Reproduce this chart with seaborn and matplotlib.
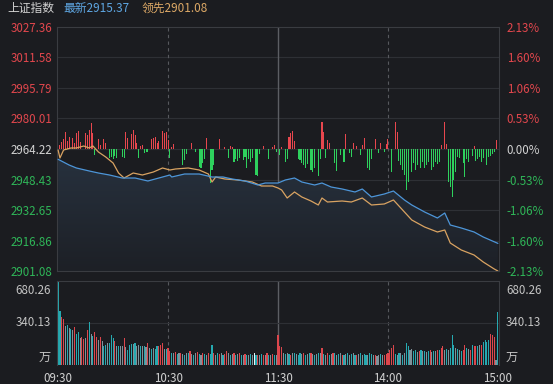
import numpy as np
import pandas as pd
import matplotlib
matplotlib.use("Agg")
import matplotlib.pyplot as plt
from matplotlib.path import Path
from matplotlib.patches import PathPatch
from matplotlib.colors import LinearSegmentedColormap
import seaborn as sns

# ---------------- data ----------------
pre_close = 2964.22
price_levels = [3027.36, 3011.58, 2995.79, 2980.01, 2964.22, 2948.43, 2932.65, 2916.86, 2901.08]
pct_labels = ["2.13%", "1.60%", "1.06%", "0.53%", "0.00%", "-0.53%", "-1.06%", "-1.60%", "-2.13%"]
time_ticks = [0, 60, 120, 180, 240]
time_labels = ["09:30", "10:30", "11:30", "14:00", "15:00"]

index_minutes = [0, 6, 10, 17, 22, 28, 35, 42, 49, 57, 61, 62, 69, 77, 84, 90, 95, 102, 109, 113, 120,
                 124, 129, 133, 140, 144, 149, 155, 162, 166, 171, 178, 183, 189, 193, 200, 207, 211,
                 214, 220, 227, 232, 240]
index_values = [2958.89, 2955.94, 2954.39, 2952.84, 2951.80, 2950.77, 2949.21, 2949.21, 2947.66, 2949.73,
                2950.77, 2949.73, 2951.28, 2951.28, 2949.73, 2949.73, 2948.69, 2947.66, 2945.59, 2946.62,
                2946.62, 2948.18, 2949.21, 2947.14, 2945.59, 2946.62, 2944.55, 2943.52, 2941.97, 2943.52,
                2939.38, 2940.93, 2942.48, 2937.83, 2935.24, 2931.62, 2928.51, 2931.10, 2924.89, 2923.34,
                2921.27, 2918.68, 2915.37]

lead_minutes = [0, 1, 3, 7, 10, 14, 17, 19, 22, 26, 30, 33, 36, 41, 46, 52, 57, 61, 64, 71, 77, 82, 84,
                86, 91, 98, 106, 111, 117, 120, 122, 125, 129, 133, 138, 142, 144, 147, 155, 160, 166,
                171, 178, 183, 187, 193, 200, 207, 211, 214, 220, 227, 232, 238, 240]
lead_values = [2963.70, 2959.56, 2963.70, 2964.74, 2964.74, 2965.77, 2964.74, 2965.77, 2962.67, 2960.08,
               2956.97, 2951.80, 2949.21, 2951.80, 2950.77, 2952.32, 2954.39, 2953.35, 2953.87, 2954.39,
               2953.35, 2951.28, 2947.14, 2949.73, 2948.69, 2948.18, 2947.14, 2945.07, 2945.07, 2944.04,
               2943.00, 2938.86, 2941.97, 2939.38, 2937.31, 2935.24, 2938.86, 2936.79, 2937.31, 2936.79,
               2938.86, 2935.24, 2935.76, 2937.83, 2933.69, 2927.48, 2923.85, 2921.27, 2922.30, 2915.57,
               2911.95, 2909.36, 2905.74, 2902.12, 2901.08]

flow = {1: 4, 2: 7, 3: 10, 4: 17, 5: 8, 6: 12, 8: 11, 9: 6, 10: 16, 11: 18, 12: 7, 15: 16, 16: 14,
        17: 19, 18: 26, 19: 16, 20: -6, 22: 10, 23: 4, 25: 10, 26: 6, 28: -9, 29: -8, 30: -10, 31: -7,
        32: -9, 35: -8, 36: -9, 37: 17, 38: 11, 40: 15, 41: 19, 42: 14, 43: 6, 44: -9, 45: 3, 46: 4,
        47: -4, 48: -3, 49: -3, 51: 10, 52: 11, 53: 12, 54: 6, 55: 8, 57: 18, 58: 16, 59: 17, 60: 9,
        61: -9, 62: 2, 63: 5, 68: -16, 69: -11, 70: -5, 73: 6, 75: -3, 77: -18, 78: -19, 79: -14,
        80: -10, 81: 11, 83: -34, 84: -21, 85: -16, 88: 10, 91: 2, 93: -9, 94: 3, 95: 2, 96: -13,
        97: -10, 98: -12, 99: -9, 101: -11, 102: -8, 103: -19, 104: -10, 105: -13, 106: -9, 108: -26,
        109: -27, 110: -5, 112: 3, 115: -10, 117: 2, 118: 4, 119: -3,
        121: -6, 122: 2, 124: -13, 125: -10, 126: 12, 127: 16, 128: 18, 129: 8, 131: -10, 132: -11,
        133: -14, 134: -16, 135: -19, 136: -15, 138: -21, 139: -23, 140: -19, 142: -27, 143: -10,
        144: 27, 145: 17, 146: -9, 147: 9, 148: 6, 151: -14, 152: -22, 154: -6, 156: -13, 157: 15,
        159: -4, 160: -8, 161: 6, 163: 3, 165: -6, 166: 4, 167: 11, 169: -19, 170: -21, 171: -10,
        173: 10, 175: -4, 176: 6, 178: -3, 179: 5, 180: 10, 182: -23, 184: 27, 185: 17, 186: -12,
        187: -16, 188: -21, 189: -26, 190: -41, 191: -33, 193: -23, 194: -14, 195: -21, 196: -16,
        198: -19, 199: -13, 200: -19, 201: -16, 202: -13, 204: -21, 205: -18, 206: -13, 207: -15,
        208: -13, 209: 4, 211: 27, 212: 5, 213: -33, 214: -38, 215: -48, 216: -31, 217: -23,
        218: -8, 219: -9, 221: -14, 222: -28, 223: -10, 224: -13, 226: -7, 227: 3, 228: -12,
        229: -10, 230: -8, 231: -13, 232: -9, 234: -16, 235: -8, 236: -7, 237: -5, 238: -3, 239: 9}
flow_minutes = list(flow.keys())
flow_values = list(flow.values())

volume = [680, 440, 390, 375, 315, 320, 300, 290, 285, 305,
          250, 270, 215, 230, 210, 220, 280, 345, 255, 235,
          270, 230, 200, 230, 195, 150, 165, 180, 175, 245,
          215, 195, 155, 150, 150, 150, 220, 145, 125, 165,
          170, 170, 175, 150, 165, 150, 150, 150, 145, 175,
          135, 130, 140, 130, 150, 155, 165, 175, 130, 130,
          135, 115, 100, 95, 105, 90, 95, 100, 90, 85,
          95, 100, 110, 90, 85, 95, 105, 90, 85, 100,
          90, 85, 95, 90, 160, 95, 85, 100, 90, 95,
          85, 90, 110, 95, 85, 90, 100, 85, 90, 95,
          80, 85, 90, 80, 85, 90, 80, 95, 85, 80,
          85, 90, 80, 85, 95, 80, 85, 90, 80, 85,
          245, 150, 145, 100, 90, 95, 90, 85, 100, 95,
          90, 85, 95, 90, 100, 85, 90, 95, 100, 90,
          85, 90, 100, 95, 135, 90, 85, 95, 85, 90,
          95, 100, 85, 90, 95, 80, 85, 90, 95, 85,
          90, 95, 80, 85, 90, 95, 85, 90, 80, 85,
          95, 90, 85, 80, 75, 85, 90, 80, 85, 90,
          95, 120, 135, 160, 90, 85, 95, 100, 85, 100,
          175, 150, 120, 130, 110, 120, 105, 115, 125, 110,
          115, 105, 110, 120, 105, 110, 115, 120, 125, 135,
          150, 120, 130, 125, 140, 243, 160, 140, 130, 120,
          115, 125, 160, 140, 130, 120, 165, 150, 150, 155,
          165, 160, 190, 205, 190, 200, 255, 240, 230, 40, 430]
volume_dir = ("ggrrngngnr" "ggnrrnrgng" "rrnrnggngg" "grngnnrngg" "gngnngngnr" "ngnggrrrng"
              "rrgnrgnrng" "ngrngnrgnr" "gnrggrngrn" "grrngnrgnr" "gnrgngnwgr" "ngrnrgnrgn"
              "rrrngngrng" "nggnrgngrn" "gngnrgnrgn" "rgngnrgngn" "gngrngnggn" "ggnrnngnrr"
              "rrrrgngngn" "ggnnggnrgn" "gngrngnrgr" "rngngggngn" "grrgnrgrrg" "nrggggrrrng")

# ---------------- style ----------------
BG = "#1b1c20"
GRID = "#2e3035"
RED = "#e2474d"
GREEN = "#2fb658"
BAR_RED = "#e8474e"
BAR_GREEN = "#2ed15d"
WHITE = "#d2d2d2"
BLUE = "#4d95d8"
ORANGE = "#d9a362"
vol_colors = {"r": "#dc464c", "g": "#26a9b0", "n": "#7f929a", "w": "#e8f6fa"}

sns.set_theme(style="dark")
plt.rcParams["font.family"] = ["Noto Sans CJK SC", "DejaVu Sans"]
plt.rcParams["axes.unicode_minus"] = False

W, H = 553, 384
fig = plt.figure(figsize=(W / 100, H / 100), dpi=100, facecolor=BG)

def fig_rect(x0, y0, x1, y1):
    return [x0 / W, 1 - y1 / H, (x1 - x0) / W, (y1 - y0) / H]

ax = fig.add_axes(fig_rect(57, 27, 499, 271))
axv = fig.add_axes(fig_rect(57, 281, 499, 365))
for a in (ax, axv):
    a.set_facecolor(BG)
    for s in a.spines.values():
        s.set_color("#3a3c41")
        s.set_linewidth(0.8)

xlim = (-0.6, 240.6)
ylo, yhi = price_levels[-1], price_levels[0]
ax.set_xlim(*xlim)
ax.set_ylim(ylo, yhi)

# price grid
for lv in price_levels[1:-1]:
    ax.axhline(lv, color=GRID, lw=0.8, zorder=0)
for t in (60, 180):
    ax.axvline(t, color="#56585d", lw=0.8, ls=(0, (3, 3)), zorder=0)
    axv.axvline(t, color="#56585d", lw=0.8, ls=(0, (3, 3)), zorder=0)
ax.axvline(120, color="#5c5e63", lw=1.0, zorder=0)
axv.axvline(120, color="#5c5e63", lw=1.0, zorder=0)

# gradient fill under index line (on base axes)
verts = [(index_minutes[0], ylo)] + list(zip(index_minutes, index_values)) + [(index_minutes[-1], ylo)]
patch = PathPatch(Path(verts), facecolor="none", edgecolor="none")
ax.add_patch(patch)
cmap = LinearSegmentedColormap.from_list("g", ["#1d2026", "#27313e"])
grad = np.linspace(1, 0, 256).reshape(-1, 1)
im = ax.imshow(grad, cmap=cmap, aspect="auto", extent=[xlim[0], xlim[1], ylo, 2960],
               origin="upper", zorder=1)
im.set_clip_path(patch)
ax.set_xlim(*xlim)
ax.set_ylim(ylo, yhi)

# flow bars on hidden twin axis
axf = ax.twinx()
axf.set_ylim(-122, 122)
axf.set_xlim(*xlim)
fcol = [BAR_RED if v > 0 else BAR_GREEN for v in flow_values]
axf.bar(flow_minutes, flow_values, width=0.6, color=fcol, linewidth=0, antialiased=False, zorder=2)
axf.set_yticks([])
for s in axf.spines.values():
    s.set_visible(False)

# lines on another twin
df_idx = pd.DataFrame({"m": index_minutes, "v": index_values})
df_lead = pd.DataFrame({"m": lead_minutes, "v": lead_values})
axl = axf.twinx()
sns.lineplot(data=df_lead, x="m", y="v", ax=axl, color=ORANGE, lw=0.9, zorder=3)
sns.lineplot(data=df_idx, x="m", y="v", ax=axl, color=BLUE, lw=0.9, zorder=4)
axl.set_xlabel("")
axl.set_ylabel("")
axl.set_ylim(ylo, yhi)
axl.set_xlim(*xlim)
axl.set_yticks([])
for s in axl.spines.values():
    s.set_visible(False)

# price axis labels
ax.set_yticks(price_levels)
ax.set_yticklabels([f"{v:.2f}" for v in price_levels])
ax.set_xticks([])
ax.tick_params(axis="y", length=0, pad=3.5, labelsize=8.3)
lab_colors = [RED] * 4 + [WHITE] + [GREEN] * 4
for tl, c in zip(ax.get_yticklabels(), lab_colors):
    tl.set_color(c)
axp = axl.twinx()
axp.set_ylim(ylo, yhi)
axp.set_yticks(price_levels)
axp.set_yticklabels(pct_labels)
axp.tick_params(axis="y", length=0, pad=5.5, labelsize=8.3)
for tl, c in zip(axp.get_yticklabels(), lab_colors):
    tl.set_color(c)
for s in axp.spines.values():
    s.set_visible(False)
for a in (ax, axp, axf, axl):
    a.grid(False)

# volume panel
vmins = list(range(len(volume)))
vcols = [vol_colors[c] for c in volume_dir[:len(volume)]]
axv.bar(vmins, volume, width=0.62, color=vcols, linewidth=0, antialiased=False, zorder=2)
axv.set_xlim(*xlim)
axv.set_ylim(0, 680.26)
axv.axhline(340.13, color=GRID, lw=0.8, zorder=0)
axv.spines["bottom"].set_visible(False)
axv.set_yticks([])
axv.grid(False)
axv.set_xticks(time_ticks)
axv.set_xticklabels(time_labels)
axv.tick_params(axis="x", length=0, pad=5, labelsize=8.3, colors=WHITE)

VOLC = "#c4c4c4"
for xa, ha, dx in ((0, "right", -4.5), (1, "left", 5)):
    axv.annotate("680.26", (xa, 680.26), xycoords=("axes fraction", "data"),
                 xytext=(dx, -2.5), textcoords="offset points", ha=ha, va="top",
                 fontsize=8.3, color=VOLC)
    axv.annotate("340.13", (xa, 340.13), xycoords=("axes fraction", "data"),
                 xytext=(dx, 0), textcoords="offset points", ha=ha, va="center",
                 fontsize=8.3, color=VOLC)
    axv.annotate("万", (xa, 0), xycoords=("axes fraction", "data"),
                 xytext=(dx, 1), textcoords="offset points", ha=ha, va="bottom",
                 fontsize=8.8, color=VOLC)

# header
fig.text(7 / W, 1 - 8.5 / H, "上证指数", color=WHITE, fontsize=8.5, va="center", ha="left")
fig.text(63 / W, 1 - 8.5 / H, "最新2915.37", color="#5ea6e2", fontsize=8.5, va="center", ha="left")
fig.text(142 / W, 1 - 8.5 / H, "领先2901.08", color="#dca866", fontsize=8.5, va="center", ha="left")

fig.savefig("out.png", dpi=100, facecolor=BG)
